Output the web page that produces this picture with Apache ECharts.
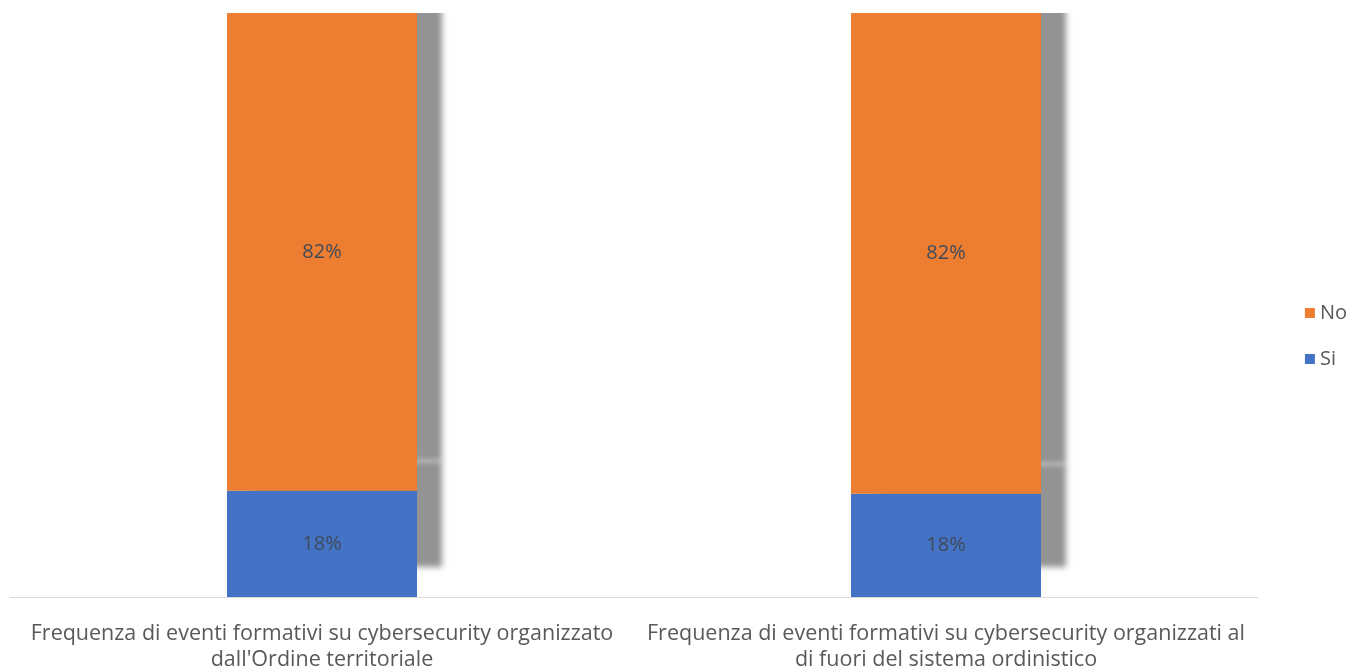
<!DOCTYPE html>
<html><head><meta charset="utf-8">
<script src="https://cdn.jsdelivr.net/npm/echarts@6/dist/echarts.min.js"></script>
<style>html,body{margin:0;padding:0;background:#fff}#c{width:1356px;height:668px}</style>
</head><body><div id="c"></div>
<script>
const categories = [
  "Frequenza di eventi formativi su cybersecurity organizzato\ndall'Ordine territoriale",
  "Frequenza di eventi formativi su cybersecurity organizzati al\ndi fuori del sistema ordinistico"
];
const siValues = [18.2, 17.7];
const noValues = [81.8, 82.3];

const chart = echarts.init(document.getElementById('c'));
const font = "'Open Sans', sans-serif";
const shadow = {shadowColor: 'rgba(128,128,128,0.85)', shadowBlur: 6, shadowOffsetX: 25, shadowOffsetY: -30};
const lbl = {show: true, position: 'inside', color: '#3f4a5a', fontFamily: font, fontSize: 20,
  formatter: p => Math.round(p.value) + '%'};
chart.setOption({
  animation: false,
  grid: {left: 10, right: 98, top: 13, bottom: 71, containLabel: false, outerBoundsMode: 'none'},
  legend: {
    orient: 'vertical', right: 4, top: 298, itemGap: 26, itemWidth: 10, itemHeight: 10,
    icon: 'rect', textStyle: {color: '#595959', fontFamily: font, fontSize: 20},
    data: ['No', 'Si']
  },
  graphic: [{type: 'rect', left: 0, top: 0, z: 100, shape: {width: 1356, height: 13}, style: {fill: '#fff'}}],
  xAxis: {
    type: 'category', data: categories,
    axisLine: {lineStyle: {color: '#d9d9d9', width: 1}},
    axisTick: {show: false},
    axisLabel: {color: '#595959', fontFamily: font, fontSize: 21.5, lineHeight: 26, margin: 24, interval: 0}
  },
  yAxis: {type: 'value', min: 0, max: 100, show: false, splitLine: {show: false}},
  series: [
    {name: 'Si', type: 'bar', stack: 't', data: siValues, barWidth: 190,
     itemStyle: Object.assign({color: '#4472c4'}, shadow), label: lbl},
    {name: 'No', type: 'bar', stack: 't', data: noValues, barWidth: 190,
     itemStyle: Object.assign({color: '#ed7d31'}, shadow), label: lbl}
  ]
});
</script></body></html>
